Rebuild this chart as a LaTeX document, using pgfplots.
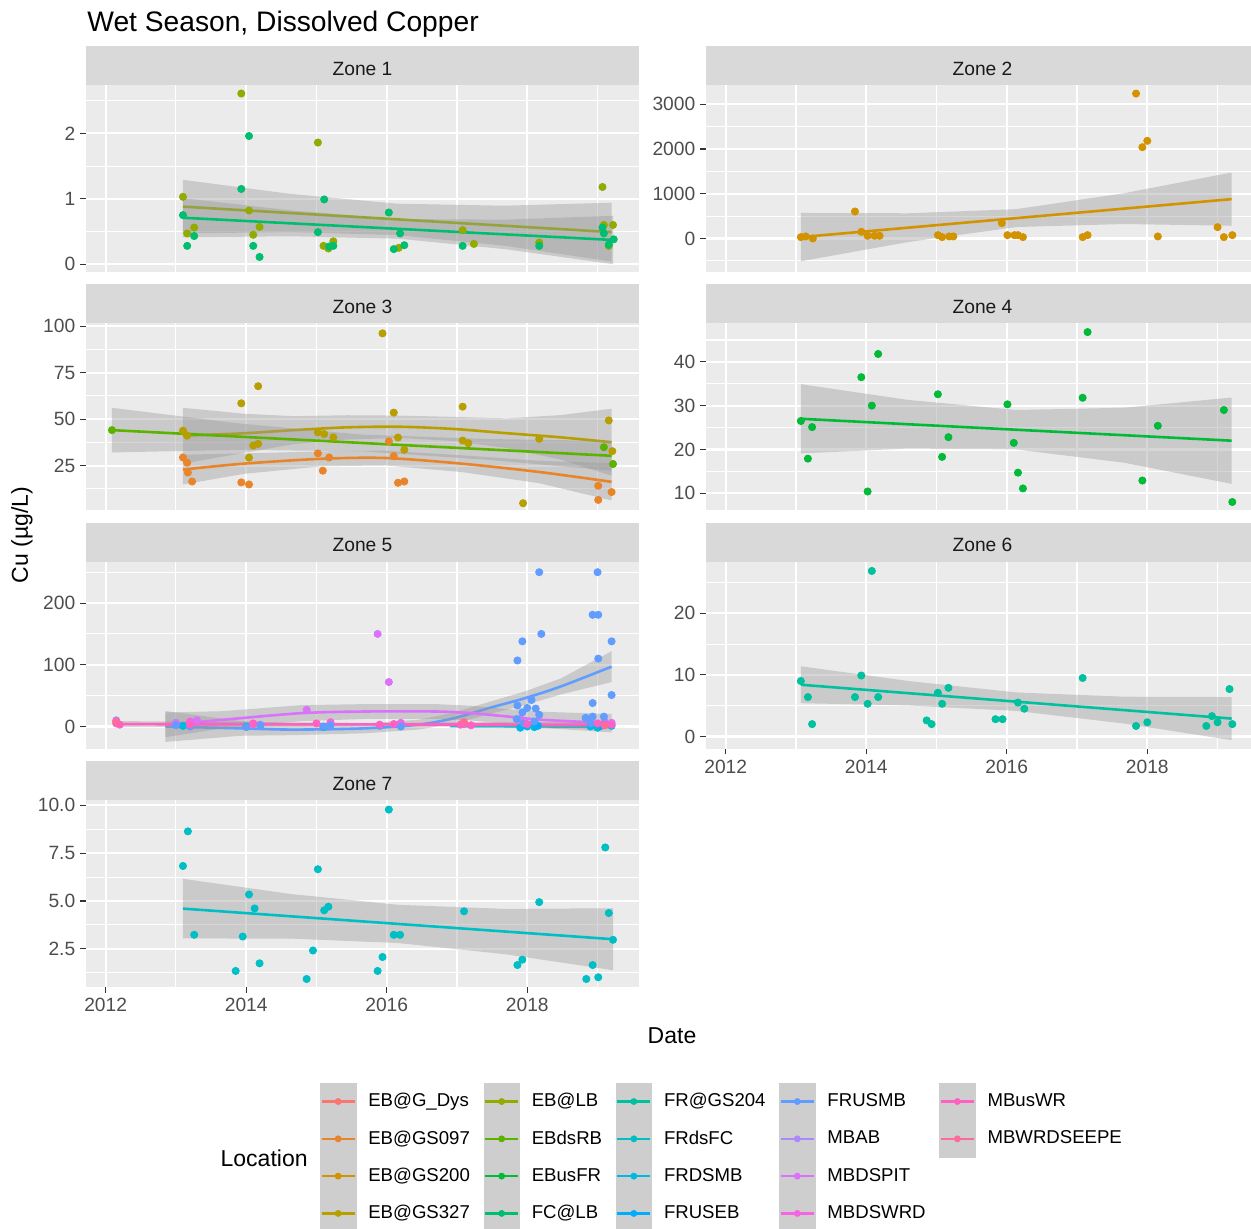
\documentclass[border=0pt]{standalone}
\usepackage{pgfplots}
\pgfplotsset{compat=1.18}
\usepackage{fontspec}
\setmainfont{Liberation Sans}
\definecolor{panelbg}{HTML}{EBEBEB}
\definecolor{stripbg}{HTML}{D9D9D9}
\definecolor{tickc}{HTML}{333333}
\definecolor{ticklab}{HTML}{4D4D4D}
\definecolor{striptext}{HTML}{1A1A1A}
\definecolor{keybg}{HTML}{CECECE}
\definecolor{c0}{HTML}{F8766D}
\definecolor{c1}{HTML}{E8842A}
\definecolor{c2}{HTML}{D39200}
\definecolor{c3}{HTML}{B79F00}
\definecolor{c4}{HTML}{93AA00}
\definecolor{c5}{HTML}{5BB300}
\definecolor{c6}{HTML}{00BA38}
\definecolor{c7}{HTML}{00BE70}
\definecolor{c8}{HTML}{00C19F}
\definecolor{c9}{HTML}{00BFC4}
\definecolor{c10}{HTML}{00B9E3}
\definecolor{c11}{HTML}{00ADFA}
\definecolor{c12}{HTML}{619CFF}
\definecolor{c13}{HTML}{AC88FF}
\definecolor{c14}{HTML}{DB72FB}
\definecolor{c15}{HTML}{F564E3}
\definecolor{c16}{HTML}{FF61C3}
\definecolor{c17}{HTML}{FF6A98}
\pgfplotsset{
  zone/.style={
    scale only axis, width=276.5pt, height=93.5pt, anchor=south west,
    axis background/.style={fill=panelbg},
    axis line style={draw=none},
    xmin=2011.72, xmax=2019.59,
    xtick={2012,2014,2016,2018}, minor xtick={2013,2015,2017,2019},
    grid=both,
    major grid style={white, line width=1.1pt},
    minor grid style={white, line width=0.55pt},
    tick align=outside, major tick length=2.8pt, minor tick length=0pt,
    tick style={tickc, line width=0.55pt},
    xtick pos=bottom, ytick pos=left,
    tick label style={font=\fontsize{9.6}{11}\selectfont, text=ticklab},
    yticklabel style={inner sep=0pt, xshift=-2.4pt},
    xticklabel style={inner sep=0pt, yshift=-2.6pt},
  },
  xlab/.style={xticklabels={2012,2014,2016,2018}},
  noxlab/.style={xticklabels={{},{},{},{}}, xtick style={draw=none}},
  pts/.style={only marks, mark=*, mark size=1.8pt, mark options={draw=none}},
  rib/.style={fill=black!40, fill opacity=0.4, draw=none, forget plot},
  fit/.style={line width=1.3pt, no markers},
}
\begin{document}
\begin{tikzpicture}
\path[use as bounding box] (0pt,0pt) rectangle (625.5pt,-614pt);
\clip (0pt,0pt) rectangle (625.5pt,-614pt);
\node[anchor=base west, inner sep=0pt, font=\fontsize{14.1}{16}\selectfont] at (43.5pt,-15.9pt) {Wet Season, Dissolved Copper};
\node[rotate=90, font=\fontsize{11.5}{13}\selectfont] at (11pt,-267.5pt) {Cu (µg/L)};
\node[font=\fontsize{11.5}{13}\selectfont] at (336pt,-518pt) {Date};
\node[anchor=east, inner sep=0pt, font=\fontsize{11.5}{13}\selectfont] at (154pt,-579pt) {Location};
% strips
\fill[stripbg] (43pt,-42.5pt) rectangle (319.5pt,-23pt);
\fill[stripbg] (353pt,-42.5pt) rectangle (629.5pt,-23pt);
\fill[stripbg] (43pt,-161.65pt) rectangle (319.5pt,-142.15pt);
\fill[stripbg] (353pt,-161.65pt) rectangle (629.5pt,-142.15pt);
\fill[stripbg] (43pt,-280.85pt) rectangle (319.5pt,-261.35pt);
\fill[stripbg] (353pt,-280.85pt) rectangle (629.5pt,-261.35pt);
\fill[stripbg] (43pt,-400pt) rectangle (319.5pt,-380.5pt);
\begin{scope}[every node/.style={anchor=base, inner sep=0pt, text=striptext, font=\fontsize{9.6}{11}\selectfont}]
\node at (181.25pt,-37.5pt) {Zone 1};
\node at (491.25pt,-37.5pt) {Zone 2};
\node at (181.25pt,-156.65pt) {Zone 3};
\node at (491.25pt,-156.65pt) {Zone 4};
\node at (181.25pt,-275.85pt) {Zone 5};
\node at (491.25pt,-275.85pt) {Zone 6};
\node at (181.25pt,-395pt) {Zone 7};
\end{scope}

% Zone 1
\begin{axis}[zone, noxlab, at={(43pt,-136pt)}, ymin=-0.12, ymax=2.74,
  ytick={0,1,2}, yticklabels={0,1,2}, minor ytick={0.5,1.5,2.5}]
\addplot[pts,c4] coordinates {(2013.93,2.61) (2015.02,1.86) (2013.10,1.03) (2019.07,1.18) (2014.04,0.82) (2013.16,0.47) (2013.26,0.56) (2014.10,0.45) (2014.19,0.57) (2015.10,0.28) (2015.17,0.24) (2015.24,0.35) (2016.17,0.25) (2017.08,0.52) (2017.24,0.31) (2018.17,0.33) (2019.09,0.60) (2019.22,0.60) (2019.16,0.28)};
\addplot[pts,c7] coordinates {(2014.04,1.96) (2013.93,1.15) (2015.11,0.99) (2016.03,0.79) (2013.10,0.75) (2013.26,0.43) (2013.16,0.28) (2014.10,0.28) (2014.19,0.11) (2015.02,0.49) (2015.18,0.27) (2015.24,0.28) (2016.10,0.23) (2016.25,0.29) (2016.19,0.47) (2017.08,0.28) (2018.17,0.28) (2019.07,0.56) (2019.09,0.47) (2019.23,0.38) (2019.16,0.30)};
\addplot[rib] coordinates {(2013.10,0.47) (2014.625,0.491) (2016.15,0.445) (2017.675,0.282) (2019.20,0.04) (2019.20,0.94) (2017.675,0.894) (2016.15,0.925) (2014.625,1.075) (2013.10,1.29)} --cycle;
\addplot[fit,c4] coordinates {(2013.10,0.88) (2019.20,0.49)};
\addplot[rib] coordinates {(2013.10,0.41) (2014.63,0.427) (2016.16,0.39) (2017.69,0.229) (2019.22,0.00) (2019.22,0.74) (2017.69,0.681) (2016.16,0.69) (2014.63,0.823) (2013.10,1.01)} --cycle;
\addplot[fit,c7] coordinates {(2013.10,0.71) (2019.22,0.37)};
\end{axis}

% Zone 2
\begin{axis}[zone, noxlab, at={(353pt,-136pt)}, ymin=-750, ymax=3430,
  ytick={0,1000,2000,3000}, yticklabels={0,1000,2000,3000}, minor ytick={-500,500,1500,2500}]
\addplot[pts,c2] coordinates {(2017.84,3239) (2017.93,2040) (2018.00,2182) (2013.84,603) (2013.07,30) (2013.14,45) (2013.24,0) (2013.93,149) (2014.02,60) (2014.12,60) (2014.19,60) (2015.02,74) (2015.08,30) (2015.18,45) (2015.24,45) (2015.93,343) (2016.01,74) (2016.11,74) (2016.16,74) (2016.23,30) (2017.08,30) (2017.15,74) (2018.15,45) (2019.00,253) (2019.09,30) (2019.21,74)};
\addplot[rib] coordinates {(2013.07,-510) (2014.60,-79) (2016.135,255) (2017.67,323) (2019.20,284) (2019.20,1474) (2017.67,1011) (2016.135,655) (2014.60,563) (2013.07,570)} --cycle;
\addplot[fit,c2] coordinates {(2013.07,30) (2019.20,879)};
\end{axis}

% Zone 3
\begin{axis}[zone, noxlab, at={(43pt,-255.15pt)}, ymin=1, ymax=101.5,
  ytick={25,50,75,100}, yticklabels={25,50,75,100}, minor ytick={12.5,37.5,62.5,87.5}]
\addplot[pts,c1] coordinates {(2013.10,29.4) (2013.16,26.6) (2013.17,21.3) (2013.23,16.5) (2013.93,16.0) (2014.04,14.9) (2015.02,31.6) (2015.09,22.3) (2015.18,29.4) (2016.10,30.1) (2016.03,38.1) (2016.16,15.8) (2016.25,16.5) (2019.01,14.2) (2019.01,6.6) (2019.20,10.8)};
\addplot[pts,c3] coordinates {(2015.94,96.1) (2014.17,67.7) (2013.93,58.5) (2017.08,56.7) (2016.10,53.5) (2019.16,49.3) (2013.10,43.8) (2013.16,41.1) (2015.02,42.9) (2015.11,42.0) (2015.24,40.2) (2016.16,40.1) (2017.08,38.5) (2014.10,35.8) (2014.17,36.7) (2017.16,37.1) (2018.17,39.4) (2016.25,33.5) (2014.04,29.3) (2019.21,32.8) (2017.94,4.8)};
\addplot[pts,c5] coordinates {(2012.09,44.1) (2019.09,34.9) (2019.22,25.9)};
\addplot[rib] coordinates {(2013.10,14.9) (2013.97,20.6) (2015.08,24.7) (2015.99,25.1) (2017.06,21.6) (2018.17,15.6) (2019.20,6.3) (2019.20,26.3) (2018.17,27.6) (2017.06,30.6) (2015.99,33.1) (2015.08,32.7) (2013.97,31.6) (2013.10,30.9)} --cycle;
\addplot[fit,c1,smooth] coordinates {(2013.10,22.9) (2013.97,26.1) (2015.08,28.7) (2015.99,29.1) (2017.06,26.1) (2018.17,21.6) (2019.20,16.3)};
\addplot[rib] coordinates {(2013.10,26.1) (2013.97,31.9) (2014.68,36.6) (2015.44,39.1) (2016.20,39.9) (2016.96,38.2) (2017.72,34.4) (2018.48,28.2) (2019.20,19.6) (2019.20,55.6) (2018.48,52.2) (2017.72,50.4) (2016.96,51.2) (2016.20,51.9) (2015.44,52.1) (2014.68,51.6) (2013.97,52.9) (2013.10,56.1)} --cycle;
\addplot[fit,c3,smooth] coordinates {(2013.10,41.1) (2013.97,42.4) (2014.68,44.1) (2015.44,45.6) (2016.20,45.9) (2016.96,44.7) (2017.72,42.4) (2018.48,40.2) (2019.20,37.6)};
\addplot[rib] coordinates {(2012.09,32.1) (2013.868,33.5) (2015.645,32.7) (2017.423,28.17) (2019.20,22.3) (2019.20,38.3) (2017.423,39.33) (2015.645,41.7) (2013.868,47.8) (2012.09,56.1)} --cycle;
\addplot[fit,c5] coordinates {(2012.09,44.1) (2019.20,30.3)};
\end{axis}

% Zone 4
\begin{axis}[zone, noxlab, at={(353pt,-255.15pt)}, ymin=6.1, ymax=48.8,
  ytick={10,20,30,40}, yticklabels={10,20,30,40}, minor ytick={15,25,35,45}]
\addplot[pts,c6] coordinates {(2017.15,46.8) (2014.17,41.8) (2013.93,36.5) (2015.02,32.6) (2016.01,30.3) (2017.08,31.8) (2014.08,30.0) (2019.09,29.0) (2013.07,26.5) (2013.23,25.1) (2018.15,25.4) (2015.17,22.8) (2016.10,21.5) (2013.17,17.9) (2015.08,18.3) (2016.16,14.7) (2016.23,11.1) (2014.02,10.4) (2017.93,12.9) (2019.21,8.0)};
\addplot[rib] coordinates {(2013.07,19.1) (2014.60,20.2) (2016.135,20.0) (2017.67,16.97) (2019.20,12.15) (2019.20,31.85) (2017.67,29.53) (2016.135,29.0) (2014.60,31.3) (2013.07,34.9)} --cycle;
\addplot[fit,c6] coordinates {(2013.07,27.0) (2019.20,22.0)};
\end{axis}

% Zone 5
\begin{axis}[zone, noxlab, at={(43pt,-374.35pt)}, ymin=-36, ymax=267,
  ytick={0,100,200}, yticklabels={0,100,200}, minor ytick={50,150,250}]
\addplot[pts,c13] coordinates {(2012.15,10) (2013.0,6) (2014.2,3) (2019.1,8)};
\addplot[pts,c15] coordinates {(2013.2,8) (2014.1,5) (2015.2,7) (2016.2,6) (2017.1,4) (2018.1,6) (2019.1,7)};
\addplot[pts,c14] coordinates {(2013.0,5) (2013.3,10) (2014.86,27) (2015.87,150) (2016.03,72) (2017.9,12) (2018.9,10) (2019.2,6)};
\addplot[pts,c10] coordinates {(2013.1,1) (2014.0,0) (2015.1,-1) (2017.9,-2) (2018.0,0) (2018.1,-1) (2018.9,0) (2019.0,-2) (2019.2,1)};
\addplot[pts,c11] coordinates {(2017.95,2) (2018.15,1) (2019.05,1)};
\addplot[pts,c12] coordinates {(2018.17,250) (2019.00,250) (2018.93,181) (2019.01,181) (2018.20,150) (2017.93,138) (2019.20,138) (2017.86,107) (2019.01,110) (2019.20,51) (2018.93,38) (2018.06,43) (2017.86,34) (2017.93,23) (2018.00,30) (2018.12,29) (2018.17,19) (2018.93,16) (2019.09,16) (2018.83,14) (2013.0,2) (2013.2,0) (2014.0,-1) (2014.2,1) (2015.1,0) (2015.2,2) (2015.9,1) (2016.2,0) (2017.85,12) (2017.95,5) (2018.1,8) (2018.9,5) (2019.1,3)};
\addplot[pts,c16] coordinates {(2012.15,5) (2012.2,3) (2013.2,3) (2014.1,4) (2015.0,5) (2015.9,3) (2016.1,4) (2017.05,3) (2017.1,5) (2017.2,2) (2018.0,4) (2019.0,5) (2019.2,3)};
\addplot[pts,c17] coordinates {(2012.15,8) (2017.1,7) (2019.1,2)};
\addplot[rib] coordinates {(2016.9,-2) (2019.2,-3.5) (2019.2,2.5) (2016.9,4)} --cycle;
\addplot[fit,c10] coordinates {(2016.9,1.0) (2019.2,-0.5)};
\addplot[rib] coordinates {(2012.85,-25) (2013.92,-15) (2014.68,-14) (2015.69,-11) (2016.45,-5) (2016.96,4.5) (2017.46,20) (2017.97,35) (2018.48,52) (2019.20,72) (2019.20,122) (2018.48,78) (2017.97,57) (2017.46,40) (2016.96,22.5) (2016.45,11) (2015.69,5) (2014.68,4) (2013.92,9) (2012.85,25)} --cycle;
\addplot[fit,c12,smooth] coordinates {(2012.85,0) (2013.92,-3) (2014.68,-5) (2015.69,-3) (2016.45,3) (2016.96,13.5) (2017.46,30) (2017.97,46) (2018.48,65) (2019.20,97)};
\addplot[rib] coordinates {(2012.85,-17.3) (2013.66,-3.2) (2014.78,8.6) (2015.69,12.3) (2016.70,12.3) (2017.21,9.6) (2017.72,4.2) (2018.22,-2.2) (2019.20,-9.6) (2019.20,20.4) (2018.22,23.8) (2017.72,28.2) (2017.21,33.6) (2016.70,36.3) (2015.69,36.3) (2014.78,34.6) (2013.66,24.8) (2012.85,22.7)} --cycle;
\addplot[fit,c14,smooth] coordinates {(2012.85,2.7) (2013.66,10.8) (2014.78,21.6) (2015.69,24.3) (2016.70,24.3) (2017.21,21.6) (2017.72,16.2) (2018.22,10.8) (2019.20,5.4)};
\addplot[rib] coordinates {(2012.15,-1.2) (2015.675,0.9) (2019.20,-2.0) (2019.20,8.0) (2015.675,5.9) (2012.15,8.8)} --cycle;
\addplot[fit,c16] coordinates {(2012.15,3.8) (2019.20,3.0)};
\end{axis}

% Zone 6
\begin{axis}[zone, xlab, at={(353pt,-374.35pt)}, ymin=-2, ymax=28.4,
  ytick={0,10,20}, yticklabels={0,10,20}, minor ytick={5,15,25}]
\addplot[pts,c8] coordinates {(2014.08,26.9) (2017.08,9.5) (2013.93,9.9) (2013.07,9.0) (2019.17,7.7) (2015.17,7.9) (2015.02,7.1) (2013.17,6.4) (2013.84,6.4) (2014.17,6.4) (2014.02,5.3) (2015.08,5.3) (2016.16,5.5) (2016.25,4.5) (2013.23,2.0) (2014.86,2.6) (2014.93,2.0) (2015.84,2.8) (2015.94,2.8) (2017.84,1.7) (2018.00,2.3) (2018.84,1.7) (2018.92,3.3) (2019.00,2.3) (2019.21,2.0)};
\addplot[rib] coordinates {(2013.07,5.4) (2014.60,5.04) (2016.135,4.15) (2017.67,2.095) (2019.20,-0.6) (2019.20,6.4) (2017.67,6.455) (2016.135,7.15) (2014.60,9.01) (2013.07,11.4)} --cycle;
\addplot[fit,c8] coordinates {(2013.07,8.4) (2019.20,2.9)};
\end{axis}

% Zone 7
\begin{axis}[zone, xlab, at={(43pt,-493.5pt)}, ymin=0.5, ymax=10.28,
  ytick={2.5,5,7.5,10}, yticklabels={2.5,5.0,7.5,10.0}, minor ytick={1.25,3.75,6.25,8.75}]
\addplot[pts,c9] coordinates {(2016.03,9.78) (2013.17,8.64) (2019.11,7.80) (2013.10,6.83) (2015.02,6.66) (2014.04,5.34) (2014.12,4.61) (2018.17,4.94) (2015.11,4.51) (2015.17,4.70) (2017.10,4.46) (2019.16,4.37) (2013.26,3.23) (2013.95,3.14) (2016.10,3.23) (2016.19,3.23) (2019.22,2.97) (2014.95,2.41) (2015.94,2.07) (2014.19,1.74) (2013.85,1.34) (2015.87,1.34) (2014.86,0.92) (2017.93,1.93) (2017.86,1.65) (2018.93,1.65) (2018.84,0.92) (2019.01,1.01)};
\addplot[rib] coordinates {(2013.10,3.04) (2014.63,3.034) (2016.16,2.8) (2017.69,2.214) (2019.22,1.38) (2019.22,4.62) (2017.69,4.586) (2016.16,4.8) (2014.63,5.366) (2013.10,6.16)} --cycle;
\addplot[fit,c9] coordinates {(2013.10,4.6) (2019.22,3.0)};
\end{axis}

% Legend
\begin{axis}[at={(0pt,-614pt)}, anchor=south west, scale only axis, width=625.5pt, height=614pt,
  hide axis, xmin=0, xmax=1, ymin=0, ymax=1,
  legend columns=5, legend cell align=left,
  legend style={at={(0.2558,0.1182)}, anchor=north west, draw=none, fill=none,
    inner sep=0pt, outer sep=0pt, row sep=0pt,
    font=\fontsize{9.3}{11}\selectfont,
    nodes={inner sep=0pt},
    /tikz/every odd column/.append style={column sep=6pt},
    /tikz/every even column/.append style={column sep=6.8pt}},
  legend image code/.code={
    \fill[keybg] (0pt,-9.125pt) rectangle (17.75pt,9.125pt);
    \draw[#1, line width=1.3pt] (0.6pt,0pt) -- (17.15pt,0pt);
    \fill[#1] (8.875pt,0pt) circle (1.5pt);
  }]
\addlegendimage{c0}\addlegendentry{EB@G\_Dys}
\addlegendimage{c4}\addlegendentry{EB@LB}
\addlegendimage{c8}\addlegendentry{FR@GS204}
\addlegendimage{c12}\addlegendentry{FRUSMB}
\addlegendimage{c16}\addlegendentry{MBusWR}
\addlegendimage{c1}\addlegendentry{EB@GS097}
\addlegendimage{c5}\addlegendentry{EBdsRB}
\addlegendimage{c9}\addlegendentry{FRdsFC}
\addlegendimage{c13}\addlegendentry{MBAB}
\addlegendimage{c17}\addlegendentry{MBWRDSEEPE}
\addlegendimage{c2}\addlegendentry{EB@GS200}
\addlegendimage{c6}\addlegendentry{EBusFR}
\addlegendimage{c10}\addlegendentry{FRDSMB}
\addlegendimage{c14}\addlegendentry{MBDSPIT}
\addlegendimage{empty legend}\addlegendentry{}
\addlegendimage{c3}\addlegendentry{EB@GS327}
\addlegendimage{c7}\addlegendentry{FC@LB}
\addlegendimage{c11}\addlegendentry{FRUSEB}
\addlegendimage{c15}\addlegendentry{MBDSWRD}
\addlegendimage{empty legend}\addlegendentry{}
\end{axis}
\end{tikzpicture}
\end{document}
